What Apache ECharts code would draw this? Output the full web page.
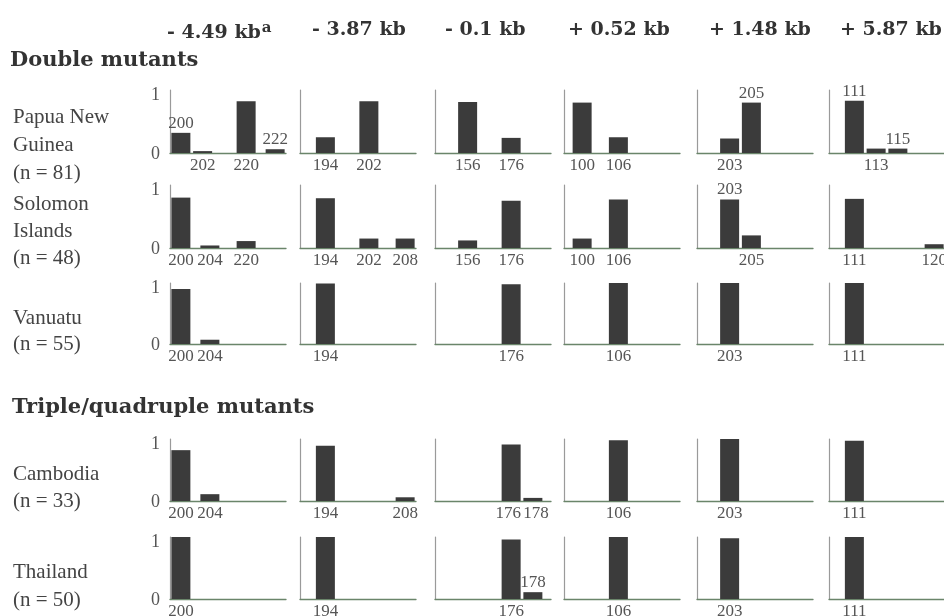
<!DOCTYPE html>
<html>
<head>
<meta charset="utf-8">
<script src="https://cdn.jsdelivr.net/npm/echarts@6/dist/echarts.min.js"></script>
<style>html,body{margin:0;padding:0;background:#fff;}#main{width:944px;height:616px;}</style>
</head>
<body>
<div id="main"></div>
<script>
// ---- column (locus) headers ----
const headers = ['- 4.49 kb', '- 3.87 kb', '- 0.1 kb', '+ 0.52 kb', '+ 1.48 kb', '+ 5.87 kb'];
const headerSup = ['a', '', '', '', '', ''];
const sectionTitles = ['Double mutants', 'Triple/quadruple mutants'];
const rowNames = ['Papua New\nGuinea\n(n = 81)', 'Solomon\nIslands\n(n = 48)', 'Vanuatu\n(n = 55)', 'Cambodia\n(n = 33)', 'Thailand\n(n = 50)'];
const yTicks = [0, 1];

// ---- allele slots per locus (blank entries are empty slots on the category axis) ----
const slots449 = ['', '200', '', '', '202', '204', '', '', '', '', '220', '', '', '', '222', ''];
const slots387 = ['', '', '', '194', '', '', '', '', '', '202', '', '', '', '', '208', ''];
const slots01  = ['', '', '', '', '156', '', '', '', '', '', '176', '', '', '178', '', ''];
const slots052 = ['', '', '100', '', '', '', '', '106', '', '', '', '', '', '', '', ''];
const slots148 = ['', '', '', '', '203', '', '', '205', '', '', '', '', '', '', '', ''];
const slots587 = ['', '', '', '111', '', '', '113', '', '', '115', '', '', '', '', '120', ''];

// ---- Papua New Guinea ----
const pngAlleles = [['200','202','220','222'], ['194','202'], ['156','176'], ['100','106'], ['203','205'], ['111','113','115']];
const pngFreq    = [[0.32,0.03,0.82,0.06], [0.25,0.82], [0.81,0.24], [0.80,0.25], [0.23,0.80], [0.83,0.07,0.07]];
const pngAbove   = [['200','222'], [], [], [], ['205'], ['111','115']];
// ---- Solomon Islands ----
const solAlleles = [['200','204','220'], ['194','202','208'], ['156','176'], ['100','106'], ['203','205'], ['111','120']];
const solFreq    = [[0.80,0.04,0.11], [0.79,0.15,0.15], [0.12,0.75], [0.15,0.77], [0.77,0.20], [0.78,0.06]];
const solAbove   = [[], [], [], [], ['203'], []];
// ---- Vanuatu ----
const vanAlleles = [['200','204'], ['194'], ['176'], ['106'], ['203'], ['111']];
const vanFreq    = [[0.90,0.07], [0.99], [0.98], [1.0], [1.0], [1.0]];
const vanAbove   = [[], [], [], [], [], []];
// ---- Cambodia ----
const camAlleles = [['200','204'], ['194','208'], ['176','178'], ['106'], ['203'], ['111']];
const camFreq    = [[0.82,0.11], [0.89,0.06], [0.91,0.05], [0.98], [1.0], [0.97]];
const camAbove   = [[], [], [], [], [], []];
// ---- Thailand ----
const thaAlleles = [['200'], ['194'], ['176','178'], ['106'], ['203'], ['111']];
const thaFreq    = [[1.0], [1.0], [0.96,0.11], [1.0], [0.98], [1.0]];
const thaAbove   = [[], [], ['178'], [], [], []];

// ---- layout ----
const slotsByCol = [slots449, slots387, slots01, slots052, slots148, slots587];
const rowsData = [
  [pngAlleles, pngFreq, pngAbove],
  [solAlleles, solFreq, solAbove],
  [vanAlleles, vanFreq, vanAbove],
  [camAlleles, camFreq, camAbove],
  [thaAlleles, thaFreq, thaAbove]
];
const colLeft = [170, 300, 435, 564, 697, 829];
const colWidth = 116;
const rowTop = [90, 185, 283, 439, 537];
const rowBase = [153, 248, 344, 501, 599];
const rowLabelY = [145, 231, 331, 488, 586];
const rowLabelLH = [28, 27, 26, 27, 28];
const headerX = [167, 312, 445, 568, 709, 840];

const SERIF = "'DejaVu Serif', serif";
const TIMES = "'Liberation Serif', 'Times New Roman', serif";
const grids = [], xAxes = [], yAxes = [], series = [];

rowsData.forEach(([alleles, freq, above], r) => {
  slotsByCol.forEach((slots, c) => {
    const idx = grids.length;
    const shown = i => {
      const n = slots[i];
      return !!n && alleles[c].includes(n) && !above[c].includes(n);
    };
    grids.push({left: colLeft[c], top: rowTop[r], width: colWidth, height: rowBase[r] - rowTop[r],
      containLabel: false, outerBoundsMode: 'none'});
    xAxes.push({
      type: 'category', gridIndex: idx, data: slots,
      axisTick: {show: false},
      splitLine: {show: false},
      axisLine: {show: true, lineStyle: {color: '#6a856a', width: 1.3}},
      axisLabel: {
        interval: 0, margin: 4, fontFamily: TIMES, fontSize: 17, color: '#555',
        formatter: (v, i) => {
          if (!shown(i)) return '';
          // nudge crowded neighbouring labels apart
          if (shown(i + 1) || shown(i + 2) || shown(i + 3)) return '{l|' + slots[i] + '}';
          if (shown(i - 1) || shown(i - 2) || shown(i - 3)) return '{r|' + slots[i] + '}';
          return slots[i];
        },
        rich: {
          l: {fontFamily: TIMES, fontSize: 17, color: '#555', padding: [0, 6, 0, 0]},
          r: {fontFamily: TIMES, fontSize: 17, color: '#555', padding: [0, 0, 0, 6]}
        }
      }
    });
    yAxes.push({
      type: 'value', gridIndex: idx, min: yTicks[0], max: yTicks[1], interval: 1,
      axisTick: {show: false},
      splitLine: {show: false},
      axisLine: {show: true, lineStyle: {color: '#9a9a9a', width: 1.2}},
      axisLabel: {
        show: c === 0, margin: 10,
        formatter: v => v === 1 ? '{one|1}' : '{zero|0}',
        rich: {
          one: {fontFamily: TIMES, fontSize: 18, color: '#555', padding: [10, 0, 0, 0]},
          zero: {fontFamily: TIMES, fontSize: 18, color: '#555', padding: [2, 0, 0, 0]}
        }
      }
    });
    const data = slots.map(n => {
      const j = n ? alleles[c].indexOf(n) : -1;
      if (j < 0) return null;
      return {value: freq[c][j], label: {show: above[c].includes(n)}};
    });
    series.push({
      type: 'bar', xAxisIndex: idx, yAxisIndex: idx, barWidth: 19, data: data,
      silent: true, animation: false,
      itemStyle: {color: '#3b3b3b'},
      label: {
        show: false, position: 'top', distance: 1,
        fontFamily: TIMES, fontSize: 17, color: '#555',
        formatter: p => slots[p.dataIndex]
      }
    });
  });
});

const graphics = [];
headers.forEach((h, c) => {
  graphics.push({
    type: 'text', left: headerX[c], top: 21,
    style: {
      text: '{m|' + h + '}' + (headerSup[c] ? '{s|' + headerSup[c] + '}' : ''),
      rich: {
        m: {fontFamily: SERIF, fontWeight: 'bold', fontSize: 19, fill: '#333', lineHeight: 24},
        s: {fontFamily: SERIF, fontWeight: 'bold', fontSize: 15, fill: '#333', lineHeight: 24, verticalAlign: 'top', padding: [0, 0, 6, 1]}
      }
    }
  });
});
graphics.push({type: 'text', left: 10, top: 50,
  style: {text: sectionTitles[0], fontFamily: SERIF, fontWeight: 'bold', fontSize: 21, fill: '#333'}});
graphics.push({type: 'text', left: 12, top: 397,
  style: {text: sectionTitles[1], fontFamily: SERIF, fontWeight: 'bold', fontSize: 21, fill: '#333'}});
rowNames.forEach((t, r) => {
  graphics.push({type: 'text', x: 13, y: rowLabelY[r],
    style: {text: t, fontFamily: TIMES, fontSize: 21, fill: '#444', lineHeight: rowLabelLH[r],
      textAlign: 'left', textVerticalAlign: 'middle'}});
});

const chart = echarts.init(document.getElementById('main'), null, {renderer: 'canvas'});
chart.setOption({
  backgroundColor: '#ffffff',
  animation: false,
  grid: grids, xAxis: xAxes, yAxis: yAxes, series: series,
  graphic: graphics
});
</script>
</body>
</html>
